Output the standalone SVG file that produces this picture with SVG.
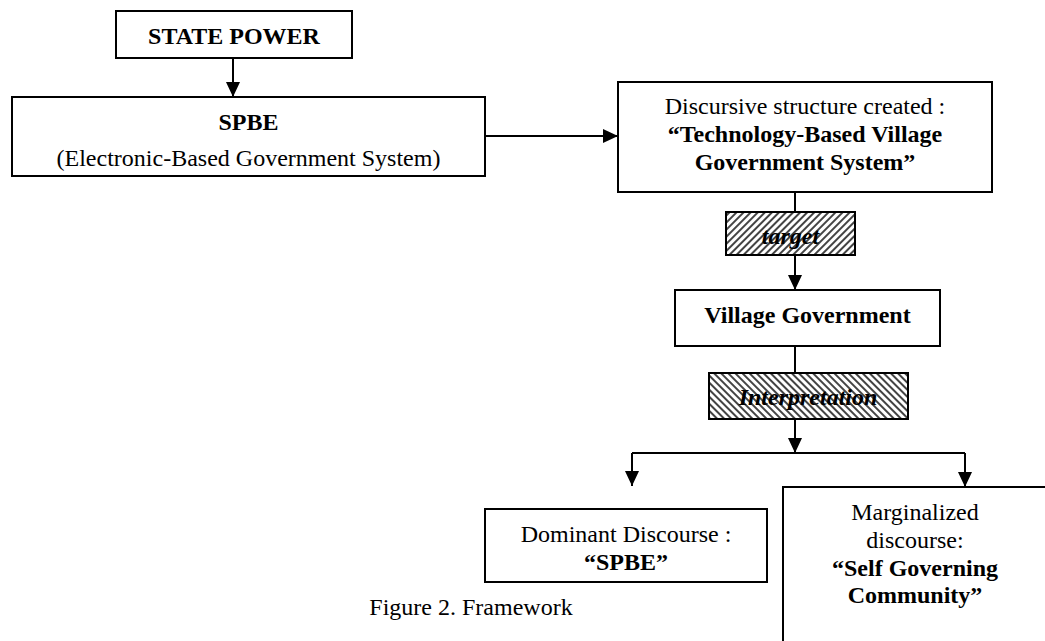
<svg xmlns="http://www.w3.org/2000/svg" width="1045" height="641" viewBox="0 0 1045 641">
<style>
.box{fill:#fff;stroke:#000;stroke-width:2}
.hbox{stroke:#000;stroke-width:2}
.t{font-family:"Liberation Serif","Times New Roman",serif;font-size:24px;fill:#000;text-anchor:middle}
.b{font-weight:bold}
.bi{font-weight:bold;font-style:italic}
.ln{fill:none;stroke:#000;stroke-width:2}
.arr{marker-end:url(#ah)}
</style>
<defs>
<marker id="ah" markerUnits="userSpaceOnUse" markerWidth="15" markerHeight="14" refX="15" refY="7" orient="auto">
<path d="M0,0 L15,7 L0,14 z" fill="#000"/>
</marker>
<pattern id="h1" patternUnits="userSpaceOnUse" width="5" height="5" patternTransform="rotate(45)">
<rect width="5" height="5" fill="#fff"/>
<rect width="2" height="5" fill="#444"/>
</pattern>
<pattern id="h2" patternUnits="userSpaceOnUse" width="5" height="5" patternTransform="rotate(-45)">
<rect width="5" height="5" fill="#fff"/>
<rect width="2" height="5" fill="#444"/>
</pattern>
</defs>
<rect width="1045" height="641" fill="#fff"/>
<g id="connectors">
<path class="ln arr" d="M233,58 V97"/>
<path class="ln arr" d="M485,136 H618"/>
<path class="ln" d="M795,192 V212"/>
<path class="ln arr" d="M795,255 V290"/>
<path class="ln" d="M795,346 V373"/>
<path class="ln arr" d="M795,419 V453"/>
<path class="ln" d="M632,453 H965"/>
<path class="ln arr" d="M632,453 V486"/>
<path class="ln arr" d="M965,453 V487"/>
</g>
<g id="state-power">
<rect class="box" x="116" y="11" width="236" height="47"/>
<text class="t b" x="234" y="44">STATE POWER</text>
</g>
<g id="spbe">
<rect class="box" x="12" y="97" width="473" height="79"/>
<text class="t b" x="248.5" y="130">SPBE</text>
<text class="t" x="248.5" y="166">(Electronic-Based Government System)</text>
</g>
<g id="discursive">
<rect class="box" x="618" y="82" width="374" height="110"/>
<text class="t" x="805" y="114">Discursive structure created :</text>
<text class="t b" x="805" y="142">“Technology-Based Village</text>
<text class="t b" x="805" y="170">Government System”</text>
</g>
<g id="target">
<rect class="hbox" x="726" y="212" width="129" height="43" fill="url(#h1)"/>
<text class="t bi" x="790.5" y="244">target</text>
</g>
<g id="village-government">
<rect class="box" x="675" y="290" width="265" height="56"/>
<text class="t b" x="807.5" y="323">Village Government</text>
</g>
<g id="interpretation">
<rect class="hbox" x="709" y="373" width="199" height="46" fill="url(#h2)"/>
<text class="t bi" x="808" y="405">Interpretation</text>
</g>
<g id="dominant">
<rect class="box" x="485" y="509" width="282" height="73"/>
<text class="t" x="626" y="542">Dominant Discourse :</text>
<text class="t b" x="626" y="570">“SPBE”</text>
</g>
<g id="marginalized">
<rect class="box" x="783" y="487" width="270" height="175"/>
<text class="t" x="915" y="520">Marginalized</text>
<text class="t" x="915" y="548">discourse:</text>
<text class="t b" x="915" y="576">“Self Governing</text>
<text class="t b" x="915" y="603">Community”</text>
</g>
<g id="caption">
<text class="t" x="471" y="615">Figure 2. Framework</text>
</g>
</svg>
